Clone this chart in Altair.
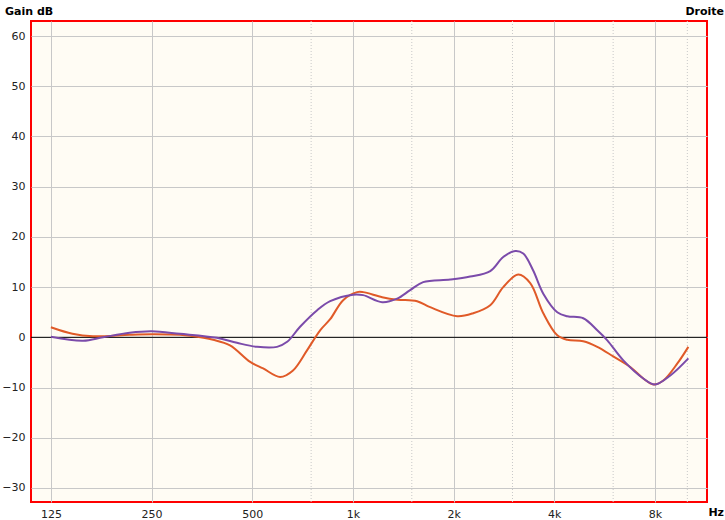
import altair as alt
import pandas as pd

# Frequency response, left ear (orange) and right ear (purple)
orange_freq = [125, 145, 167, 215, 250, 304, 326, 382, 429, 493, 539, 606, 662, 729,
               798, 855, 935, 1029, 1073, 1223, 1356, 1556, 1702, 2050, 2289, 2574,
               2815, 3121, 3390, 3709, 4084, 4375, 4884, 5378, 6005, 6750, 7385, 7913,
               8475, 9338, 10070]
orange_gain = [2.0, 0.7, 0.2, 0.5, 0.6, 0.5, 0.3, -0.5, -1.6, -4.9, -6.2, -7.9, -6.6, -2.6,
               1.4, 3.6, 7.4, 9.0, 9.0, 8.0, 7.5, 7.2, 6.0, 4.2, 4.8, 6.4,
               10.0, 12.5, 10.8, 4.8, 0.4, -0.5, -0.8, -1.9, -3.8, -5.9, -8.2, -9.4,
               -8.6, -5.2, -1.9]

purple_freq = [125, 156, 179, 215, 250, 304, 392, 450, 517, 593, 636, 695, 782, 855,
               1001, 1073, 1223, 1356, 1483, 1622, 1954, 2242, 2574, 2815, 3057, 3231,
               3460, 3709, 4084, 4375, 4884, 5378, 5763, 6435, 7385, 8000, 8897, 10070]
purple_gain = [0.1, -0.7, 0.0, 0.9, 1.2, 0.7, -0.1, -1.1, -1.9, -1.9, -0.9, 2.1, 5.4, 7.2,
               8.5, 8.4, 7.0, 7.7, 9.4, 11.0, 11.5, 12.1, 13.2, 16.0, 17.2, 16.7,
               13.3, 8.7, 5.0, 4.2, 3.8, 1.4, -0.6, -4.6, -8.2, -9.4, -7.6, -4.2]

octave_ticks = [125, 250, 500, 1000, 2000, 4000, 8000]
octave_labels = ["125", "250", "500", "1k", "2k", "4k", "8k"]
minor_ticks = [750, 1500, 3000, 6000, 10000]
gain_ticks = [60, 50, 40, 30, 20, 10, 0, -10, -20, -30]

W, H = 676, 481
FONT = "DejaVu Sans"

xscale = alt.Scale(type="log", domain=[109, 11450], nice=False, zero=False)
yscale = alt.Scale(domain=[-32.8, 63], nice=False, zero=False)

label_expr = "{" + ",".join(f"'{t}':'{l}'" for t, l in zip(octave_ticks, octave_labels)) + "}[datum.value]"

x_axis = alt.Axis(values=octave_ticks, labelExpr=label_expr, grid=True,
                  gridColor="#C8C8C8", gridWidth=1, ticks=False, domain=False,
                  labelFont=FONT, labelFontSize=11, labelColor="#222222",
                  labelPadding=6, title=None, labelFlush=False)
y_axis = alt.Axis(values=gain_ticks, grid=True, gridColor="#C8C8C8", gridWidth=1,
                  ticks=False, domain=False, labelFont=FONT, labelFontSize=11,
                  labelColor="#222222", labelPadding=6, title=None)

df_o = pd.DataFrame({"f": orange_freq, "g": orange_gain})
df_p = pd.DataFrame({"f": purple_freq, "g": purple_gain})
df_minor = pd.DataFrame({"f": minor_ticks})

# Dotted sub-octave grid lines; this layer carries the x axis
minor_grid = alt.Chart(df_minor).mark_rule(color="#C8C8C8", strokeDash=[1, 2], strokeWidth=1).encode(
    x=alt.X("f:Q", scale=xscale, axis=x_axis)
)

# 0 dB reference line; this layer carries the y axis
zero_line = alt.Chart(pd.DataFrame({"g": [0]})).mark_rule(color="#000000", strokeWidth=1).encode(
    y=alt.Y("g:Q", scale=yscale, axis=y_axis)
)

orange_line = alt.Chart(df_o).mark_line(color="#E05A28", strokeWidth=2, interpolate="catmull-rom").encode(
    x=alt.X("f:Q", scale=xscale, axis=x_axis), y=alt.Y("g:Q", scale=yscale, axis=y_axis)
)
purple_line = alt.Chart(df_p).mark_line(color="#7B4BAA", strokeWidth=2, interpolate="catmull-rom").encode(
    x=alt.X("f:Q", scale=xscale, axis=x_axis), y=alt.Y("g:Q", scale=yscale, axis=y_axis)
)

def label(text, x, y, align="left"):
    return alt.Chart(pd.DataFrame({"t": [text]})).mark_text(
        font=FONT, fontSize=11, fontWeight="bold", color="#000000", align=align, baseline="middle"
    ).encode(text="t:N", x=alt.value(x), y=alt.value(y))

gain_title = label("Gain dB", -26, -9)
side_title = label("Droite", 693, -9, align="right")
hz_title = label("Hz", 693, 492, align="right")

chart = alt.layer(
    minor_grid, zero_line, orange_line, purple_line, gain_title, side_title, hz_title
).properties(
    width=W, height=H,
    autosize=alt.AutoSizeParams(type="none"),
    padding={"left": 31, "top": 21, "right": 18, "bottom": 18},
    background="#FFFFFF",
).configure_view(
    fill="#FFFCF4", stroke="#FF0000", strokeWidth=2
)

chart.save("out.html", embed_options={"renderer": "svg", "actions": False})
